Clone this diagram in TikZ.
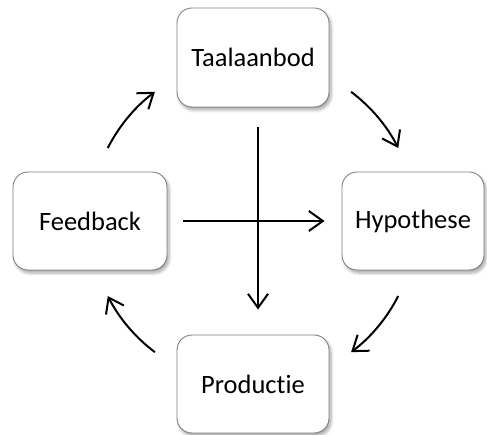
\documentclass[tikz,border=0pt]{standalone}
\usepackage{fontspec}
\setmainfont[Ligatures=NoCommon]{Carlito}
\usetikzlibrary{arrows.meta,shadows.blur}
\begin{document}
\begin{tikzpicture}[x=1pt,y=-1pt,
  box/.style={draw=black!50, line width=0.9pt, fill=white, rounded corners=15pt,
    inner sep=0pt, font=\fontsize{26.5}{31}\selectfont,
    blur shadow={shadow xshift=2pt, shadow yshift=-3pt, shadow blur steps=6, shadow opacity=35, shadow blur radius=3pt}},
  arr/.style={line width=2pt, -{Straight Barb[length=14pt,width=20pt,line width=2pt]}}
]
\useasboundingbox (0,0) rectangle (487,435);
\node[box, minimum width=152pt, minimum height=99pt] (taal) at (253,57.5) {Taalaanbod};
\node[box, minimum width=154pt, minimum height=98pt] (feed) at (90,221) {Feedback};
\node[box, minimum width=142pt, minimum height=98pt] (hypo) at (413,221) {Hypothese};
\node[box, minimum width=152pt, minimum height=98pt] (prod) at (253,384) {Productie};
% straight arrows
\coordinate (vs) at ([xshift=5pt,yshift=-20pt]taal.south);
\coordinate (ve) at ([xshift=5pt,yshift=25pt]prod.north);
\draw[arr] (vs) -- (ve);
\draw[arr] ([xshift=16pt]feed.east) -- ([xshift=-17pt]hypo.west);
% cycle arrows
\coordinate (cen) at (253,222);
\draw[arr] (cen) ++(207:163) arc[start angle=207, end angle=233, radius=163];
\draw[arr] (cen) ++(307:163) arc[start angle=307, end angle=333, radius=163];
\draw[arr] (cen) ++(27:163) arc[start angle=27, end angle=53, radius=163];
\draw[arr] (cen) ++(127:163) arc[start angle=127, end angle=153, radius=163];
\end{tikzpicture}
\end{document}
